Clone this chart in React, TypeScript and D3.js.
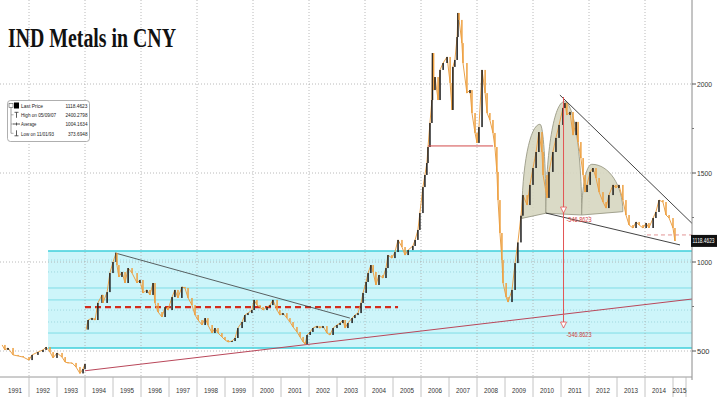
import React, { useEffect, useRef } from 'react';
import * as d3 from 'd3';

// 1991-1993, before the 1994 CNY jump
const earlyDates = [1991.04, 1991.14, 1991.25, 1991.43, 1991.61, 1991.79, 1992.0, 1992.11, 1992.32, 1992.5, 1992.61, 1992.75, 1992.86, 1993.0, 1993.18, 1993.29, 1993.39, 1993.54, 1993.68, 1993.82, 1993.93, 1994.0];
const earlyPrices = [534, 506, 517, 478, 472, 466, 449, 478, 494, 506, 522, 494, 461, 489, 466, 438, 433, 433, 410, 374, 399, 427];

const dates = [
  1994.04, 1994.11, 1994.25, 1994.36, 1994.46, 1994.61, 1994.64, 1994.79, 1994.89, 1995.0,
  1995.11, 1995.14, 1995.21, 1995.32, 1995.43, 1995.54, 1995.68, 1995.86, 1995.96, 1996.07,
  1996.21, 1996.32, 1996.43, 1996.5, 1996.61, 1996.75, 1996.86, 1996.96, 1997.11, 1997.21,
  1997.32, 1997.46, 1997.57, 1997.68, 1997.82, 1997.93, 1998.04, 1998.18, 1998.29, 1998.39,
  1998.54, 1998.64, 1998.75, 1998.89, 1999.0, 1999.11, 1999.25, 1999.36, 1999.46, 1999.61,
  1999.71, 1999.82, 1999.96, 2000.04, 2000.14, 2000.25, 2000.36, 2000.5, 2000.61, 2000.71,
  2000.86, 2000.96, 2001.07, 2001.21, 2001.32, 2001.43, 2001.57, 2001.68, 2001.79, 2001.86,
  2001.93, 2002.04, 2002.14, 2002.29, 2002.39, 2002.5, 2002.64, 2002.75, 2002.86, 2003.0,
  2003.11, 2003.21, 2003.29, 2003.39, 2003.54, 2003.64, 2003.75, 2003.86, 2003.93, 2004.04,
  2004.11, 2004.21, 2004.29, 2004.39, 2004.5, 2004.64, 2004.75, 2004.82, 2004.96, 2005.07,
  2005.18, 2005.32, 2005.43, 2005.54, 2005.71, 2005.79, 2005.89, 2005.96, 2006.07, 2006.14,
  2006.21, 2006.25, 2006.32, 2006.39, 2006.41, 2006.45, 2006.5, 2006.61, 2006.68, 2006.79,
  2006.93, 2007.04, 2007.11, 2007.14, 2007.21, 2007.29, 2007.32, 2007.36, 2007.46, 2007.5,
  2007.64, 2007.75, 2007.82, 2007.93, 2008.0, 2008.07, 2008.18, 2008.29, 2008.36, 2008.46,
  2008.57, 2008.64, 2008.71, 2008.75, 2008.82, 2008.89, 2008.93, 2009.04, 2009.11, 2009.25,
  2009.36, 2009.46, 2009.57, 2009.64, 2009.79, 2009.89, 2010.0, 2010.11, 2010.21, 2010.32,
  2010.36, 2010.5, 2010.57, 2010.71, 2010.82, 2010.93, 2011.07, 2011.14, 2011.21, 2011.32,
  2011.43, 2011.54, 2011.61, 2011.71, 2011.79, 2011.86, 2011.93, 2012.04, 2012.14, 2012.25,
  2012.36, 2012.5, 2012.61, 2012.71, 2012.86, 2012.96, 2013.07, 2013.21, 2013.32, 2013.43,
  2013.57, 2013.68, 2013.79, 2013.93, 2014.04, 2014.14, 2014.29, 2014.39, 2014.5, 2014.64,
  2014.75, 2014.86, 2015.0, 2015.07,
];
const prices = [
  620, 674, 685, 674, 770, 815, 770, 831, 938, 1000,
  1051, 983, 916, 944, 882, 966, 938, 882, 899, 826,
  843, 815, 882, 770, 719, 691, 747, 730, 803, 843,
  798, 860, 854, 798, 758, 702, 674, 646, 685, 646,
  601, 629, 601, 579, 562, 551, 556, 573, 629, 663,
  702, 713, 730, 787, 758, 747, 730, 747, 758, 787,
  730, 702, 713, 685, 663, 635, 607, 579, 551, 539,
  590, 607, 629, 640, 629, 640, 601, 590, 629, 646,
  657, 674, 629, 657, 685, 702, 713, 770, 826, 888,
  938, 983, 944, 871, 927, 910, 966, 1039, 1022, 1056,
  1124, 1084, 1039, 1067, 1090, 1124, 1180, 1275, 1421, 1489,
  1556, 1646, 1781, 1910, 2174, 1966, 2039, 1910, 2079, 2118,
  2152, 2006, 1854, 2096, 2135, 2264, 2399, 2360, 2230, 2118,
  1949, 1966, 1837, 1725, 1669, 1758, 2079, 1949, 1837, 1798,
  1725, 1646, 1506, 1348, 1163, 1011, 882, 803, 775, 843,
  994, 1110, 1260, 1376, 1320, 1433, 1528, 1618, 1730, 1618,
  1489, 1360, 1506, 1618, 1697, 1770, 1865, 1893, 1826, 1843,
  1713, 1787, 1674, 1584, 1489, 1393, 1433, 1506, 1528, 1472,
  1393, 1337, 1303, 1376, 1433, 1416, 1433, 1348, 1264, 1208,
  1191, 1225, 1208, 1191, 1219, 1191, 1247, 1281, 1348, 1337,
  1264, 1247, 1191, 1118,
];

const yTicks = [500, 1000, 1500, 2000];
const yMinorTicks = [750, 1250, 1750];
const gridYears = [1992, 1994, 1996, 1998, 2000, 2002, 2004, 2006, 2008, 2010, 2012, 2014];
const yearLabels = ['1991', '1992', '1993', '1994', '1995', '1996', '1997', '1998', '1999', '2000', '2001', '2002', '2003',
  '2004', '2005', '2006', '2007', '2008', '2009', '2010', '2011', '2012', '2013', '2014', '2015'];

// annotations
const boxStart = 1992.68;
const boxRange = [517, 1062];
const boxLevels = [854, 787, 601];
const boxDotted = [1011, 944, 730, 663];
const supportDash = [[1994.0, 747], [2005.18, 747]];
const resistance = [[1995.07, 1051], [2003.46, 685]];
const longSupport = [[1994.0, 389], [2015.68, 792]];
const topBase = [[2006.25, 1652], [2008.57, 1652]];
const wedgeUpper = [[2010.96, 1938], [2015.68, 1217]];
const wedgeLower = [[2010.46, 1275], [2015.25, 1096]];
const recentDash = [[2014.07, 1152], [2015.68, 1152]];
const shoulders = [
  { left: [2009.6, 1245], peak: [2010.25, 1774], right: [2010.46, 1274] },
  { left: [2010.46, 1274], peak: [2011.12, 1901], right: [2011.74, 1264] },
  { left: [2011.74, 1264], peak: [2012.1, 1549], right: [2013.21, 1283] },
];
const measureYear = 2011.09;
const measureTop = 1927;
const measureMarks = [1275, 629];
const measureLabel = '-546.8623';
const lastPrice = 1118.4623;

const legendRows = [
  { label: 'Last Price', value: '1118.4623' },
  { label: 'High on 05/09/07', value: '2400.2798' },
  { label: 'Average', value: '1004.1634' },
  { label: 'Low on 11/01/93', value: '373.6948' },
];

const App: React.FC = () => {
  const ref = useRef<SVGSVGElement>(null);

  useEffect(() => {
    if (!ref.current) return;
    const svg = d3.select(ref.current);
    svg.selectAll('*').remove();

    const width = 717;
    const height = 397;
    const plotRight = 692;
    const axisY = 377;
    const narrow = "'Liberation Sans Narrow', 'Arial Narrow', 'Liberation Sans', sans-serif";

    const x = d3.scaleLinear().domain([1992, 2015]).range([29, 673]);
    const y = d3.scaleLinear().domain([500, 2000]).range([351, 84]);

    // squeeze a text into a max width if the font runs wide
    const fit = (t: d3.Selection<SVGTextElement, unknown, null, undefined>, maxW: number) => {
      const node = t.node();
      if (node && node.getComputedTextLength() > maxW) {
        t.attr('textLength', maxW).attr('lengthAdjust', 'spacingAndGlyphs');
      }
    };

    svg.append('rect').attr('width', width).attr('height', height).attr('fill', '#fff');

    // cyan range box
    const box = svg.append('g');
    box.append('rect')
      .attr('x', x(boxStart))
      .attr('y', y(boxRange[1]))
      .attr('width', plotRight - x(boxStart))
      .attr('height', y(boxRange[0]) - y(boxRange[1]))
      .attr('fill', '#cdf5fa');
    boxDotted.forEach(v => {
      box.append('line')
        .attr('x1', x(boxStart)).attr('x2', plotRight)
        .attr('y1', y(v)).attr('y2', y(v))
        .attr('stroke', '#93cfd6').attr('stroke-width', 0.8).attr('stroke-dasharray', '1,2');
    });
    boxLevels.forEach(v => {
      box.append('line')
        .attr('x1', x(boxStart)).attr('x2', plotRight)
        .attr('y1', y(v)).attr('y2', y(v))
        .attr('stroke', '#7fdde6').attr('stroke-width', 1);
    });
    boxRange.forEach(v => {
      box.append('line')
        .attr('x1', x(boxStart)).attr('x2', plotRight)
        .attr('y1', y(v)).attr('y2', y(v))
        .attr('stroke', '#3ecfdb').attr('stroke-width', 1.6);
    });

    // gridlines
    yTicks.forEach(v => {
      svg.append('line')
        .attr('x1', 0).attr('x2', plotRight)
        .attr('y1', y(v)).attr('y2', y(v))
        .attr('stroke', '#a8a8a8').attr('stroke-width', 0.8).attr('stroke-dasharray', '1,2');
    });
    gridYears.forEach(yr => {
      svg.append('line')
        .attr('x1', x(yr)).attr('x2', x(yr))
        .attr('y1', 0).attr('y2', axisY)
        .attr('stroke', '#a8a8a8').attr('stroke-width', 0.8).attr('stroke-dasharray', '1,2');
    });

    // head and shoulders shading
    shoulders.forEach(s => {
      const x0 = x(s.left[0]), y0 = y(s.left[1]);
      const px = x(s.peak[0]), py = y(s.peak[1]);
      const x1 = x(s.right[0]), y1 = y(s.right[1]);
      const k = 0.552;
      const p = d3.path();
      p.moveTo(x0, y0);
      p.bezierCurveTo(x0, y0 - k * (y0 - py), px - k * (px - x0), py, px, py);
      p.bezierCurveTo(px + k * (x1 - px), py, x1, y1 - k * (y1 - py), x1, y1);
      p.closePath();
      svg.append('path')
        .attr('d', p.toString())
        .attr('fill', '#d6d6c0').attr('fill-opacity', 0.9)
        .attr('stroke', '#9a9a86').attr('stroke-width', 0.9);
    });

    const seg = (pts: number[][], color: string, w: number, dash?: string) => {
      const l = svg.append('line')
        .attr('x1', x(pts[0][0])).attr('y1', y(pts[0][1]))
        .attr('x2', x(pts[1][0])).attr('y2', y(pts[1][1]))
        .attr('stroke', color).attr('stroke-width', w);
      if (dash) l.attr('stroke-dasharray', dash);
    };

    seg(longSupport, '#b9475a', 1);
    seg(supportDash, '#d22a1c', 2.3, '6,4');
    seg(resistance, '#3a3a3a', 0.8);

    // price series: thin line plus candle-like bodies
    const drawSeries = (ds: number[], ps: number[]) => {
      const line = d3.line<number>()
        .x((_, i) => x(ds[i]))
        .y(d => y(d));
      svg.append('path')
        .attr('d', line(ps))
        .attr('fill', 'none')
        .attr('stroke', '#eaa24a')
        .attr('stroke-width', 1);
      const g = svg.append('g');
      ps.forEach((p, i) => {
        if (i === 0) return;
        const a = y(ps[i - 1]);
        const b = y(p);
        const up = p > ps[i - 1];
        g.append('rect')
          .attr('x', x(ds[i]) - 0.75)
          .attr('y', Math.min(a, b))
          .attr('width', 1.5)
          .attr('height', Math.max(1, Math.abs(a - b)))
          .attr('fill', up ? '#1d1d1d' : '#eea040');
      });
    };
    drawSeries(earlyDates, earlyPrices);
    drawSeries(dates, prices);

    seg(topBase, '#d24a4a', 1);
    seg(wedgeUpper, '#2e2e2e', 0.9);
    seg(wedgeLower, '#2e2e2e', 0.9);
    seg(recentDash, '#e29595', 1, '4,3');

    // measurement arrow
    const mx = x(measureYear);
    svg.append('line')
      .attr('x1', mx).attr('x2', mx)
      .attr('y1', y(measureTop)).attr('y2', y(measureMarks[1]))
      .attr('stroke', '#e25555').attr('stroke-width', 1);
    measureMarks.forEach(v => {
      const ty = y(v);
      svg.append('path')
        .attr('d', `M${mx - 3},${ty - 6}L${mx + 3},${ty - 6}L${mx},${ty}Z`)
        .attr('fill', '#fff').attr('stroke', '#e25555').attr('stroke-width', 0.8);
      const t = svg.append('text')
        .attr('x', mx + 3).attr('y', ty + 9)
        .attr('font-family', narrow).attr('font-size', 6.5)
        .attr('fill', '#d24040')
        .text(measureLabel);
      fit(t, 25);
    });

    // axes
    svg.append('line')
      .attr('x1', plotRight).attr('x2', plotRight)
      .attr('y1', 0).attr('y2', axisY + 3)
      .attr('stroke', '#8a8a8a').attr('stroke-width', 1);
    svg.append('line')
      .attr('x1', 0).attr('x2', plotRight)
      .attr('y1', axisY).attr('y2', axisY)
      .attr('stroke', '#9a9a9a').attr('stroke-width', 1);

    yTicks.forEach(v => {
      svg.append('line')
        .attr('x1', plotRight).attr('x2', plotRight + 4)
        .attr('y1', y(v)).attr('y2', y(v))
        .attr('stroke', '#555');
      const t = svg.append('text')
        .attr('x', plotRight + 5).attr('y', y(v) + 2.5)
        .attr('font-family', narrow).attr('font-size', 7.5)
        .attr('fill', '#333')
        .text(String(v));
      fit(t, 15);
    });
    yMinorTicks.forEach(v => {
      svg.append('line')
        .attr('x1', plotRight).attr('x2', plotRight + 2)
        .attr('y1', y(v)).attr('y2', y(v))
        .attr('stroke', '#777');
    });

    // last price tag
    const ly = y(lastPrice);
    svg.append('rect')
      .attr('x', plotRight - 1).attr('y', ly - 6)
      .attr('width', width - plotRight + 1).attr('height', 12)
      .attr('fill', '#111');
    svg.append('text')
      .attr('x', plotRight + 0.5).attr('y', ly + 2.3)
      .attr('font-family', narrow).attr('font-size', 6.5)
      .attr('textLength', 22).attr('lengthAdjust', 'spacingAndGlyphs')
      .attr('fill', '#fff')
      .text(lastPrice.toFixed(4));

    // year separators and labels
    const sepEnd = 686;
    const years = yearLabels.map(Number);
    years.slice(1).forEach(yr => {
      svg.append('line')
        .attr('x1', x(yr)).attr('x2', x(yr))
        .attr('y1', axisY).attr('y2', height)
        .attr('stroke', '#b5b5b5').attr('stroke-width', 0.8);
    });
    svg.append('line')
      .attr('x1', sepEnd).attr('x2', sepEnd)
      .attr('y1', axisY).attr('y2', height)
      .attr('stroke', '#b5b5b5').attr('stroke-width', 0.8);
    yearLabels.forEach((lab, i) => {
      const yr = years[i];
      const cx = i === yearLabels.length - 1 ? (x(yr) + sepEnd) / 2 : x(yr + 0.5);
      const t = svg.append('text')
        .attr('x', cx).attr('y', 393)
        .attr('text-anchor', 'middle')
        .attr('font-family', narrow).attr('font-size', 7)
        .attr('fill', '#333')
        .text(lab);
      fit(t, 14);
    });

    // legend
    const lg = svg.append('g');
    lg.append('rect')
      .attr('x', 7.5).attr('y', 100.5)
      .attr('width', 82).attr('height', 41).attr('rx', 3)
      .attr('fill', '#fff').attr('stroke', '#9a9a9a').attr('stroke-width', 0.8);
    const rowY = [105.5, 114.8, 124, 133.3];
    lg.append('line')
      .attr('x1', 11).attr('x2', 11).attr('y1', rowY[0] + 2).attr('y2', rowY[3])
      .attr('stroke', '#777').attr('stroke-width', 0.7);
    lg.append('rect')
      .attr('x', 9).attr('y', rowY[0] - 2).attr('width', 4).attr('height', 4)
      .attr('fill', '#fff').attr('stroke', '#555').attr('stroke-width', 0.6);
    lg.append('rect')
      .attr('x', 14).attr('y', rowY[0] - 3).attr('width', 5).attr('height', 6)
      .attr('fill', '#000');
    lg.append('path')
      .attr('d', `M14.5,${rowY[1] - 2.5}L18.5,${rowY[1] - 2.5}M16.5,${rowY[1] - 2.5}L16.5,${rowY[1] + 3}`)
      .attr('stroke', '#333').attr('stroke-width', 0.8);
    lg.append('path')
      .attr('d', `M13,${rowY[2]}L20,${rowY[2]}M16.5,${rowY[2] - 1.5}L16.5,${rowY[2] + 1.5}`)
      .attr('stroke', '#333').attr('stroke-width', 0.8);
    lg.append('path')
      .attr('d', `M16.5,${rowY[3] - 3}L16.5,${rowY[3] + 2.5}M14.5,${rowY[3] + 2.5}L18.5,${rowY[3] + 2.5}`)
      .attr('stroke', '#333').attr('stroke-width', 0.8);
    [1, 2, 3].forEach(i => {
      lg.append('line')
        .attr('x1', 11).attr('x2', 13.5).attr('y1', rowY[i]).attr('y2', rowY[i])
        .attr('stroke', '#777').attr('stroke-width', 0.6);
    });
    legendRows.forEach((r, i) => {
      const a = lg.append('text')
        .attr('x', 21).attr('y', rowY[i] + 2.2)
        .attr('font-family', narrow).attr('font-size', 6.2)
        .attr('fill', '#222')
        .text(r.label);
      fit(a, r.label.length * 2.2);
      const b = lg.append('text')
        .attr('x', 87.5).attr('y', rowY[i] + 2.2)
        .attr('text-anchor', 'end')
        .attr('font-family', narrow).attr('font-size', 6.2)
        .attr('fill', '#222')
        .text(r.value);
      fit(b, r.value.length * 2.45);
    });

    // title
    svg.append('text')
      .attr('x', 8).attr('y', 47)
      .attr('font-family', "'Liberation Serif', 'Times New Roman', serif")
      .attr('font-weight', 'bold')
      .attr('font-size', 27)
      .attr('textLength', 168)
      .attr('lengthAdjust', 'spacingAndGlyphs')
      .attr('fill', '#111')
      .text('IND Metals in CNY');
  }, []);

  return (
    <svg
      ref={ref}
      width={717}
      height={397}
      style={{ position: 'absolute', left: 0, top: 0, display: 'block' }}
    />
  );
};

export default App;
